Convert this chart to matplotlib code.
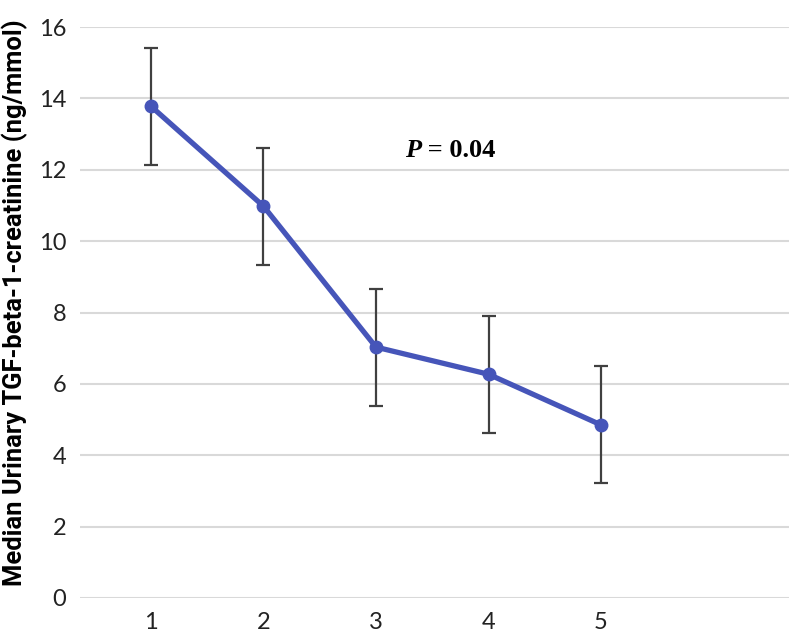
import matplotlib
matplotlib.use("Agg")
import matplotlib.pyplot as plt

categories = [1, 2, 3, 4, 5]
medians = [13.78, 10.98, 7.03, 6.27, 4.85]
errors = [1.64, 1.64, 1.64, 1.64, 1.64]
yticks = [0, 2, 4, 6, 8, 10, 12, 14, 16]

fig = plt.figure(figsize=(7.89, 6.40), dpi=100)
ax = fig.add_axes([80/789, 1-598/640, 1-80/789, (598-27)/640])

ax.set_ylim(0, 16)
ax.set_xlim(0.37, 6.67)
ax.set_yticks(yticks)
ax.set_xticks(categories)
ax.set_xticklabels([str(c) for c in categories])
ax.grid(axis='y', color='#d9d9d9', linewidth=1.5)
ax.set_axisbelow(True)
for s in ax.spines.values():
    s.set_visible(False)
ax.tick_params(length=0, labelsize=17, pad=10)
for lab in ax.get_xticklabels() + ax.get_yticklabels():
    lab.set_family('Lato')
    lab.set_color('#222222')

ax.errorbar(categories, medians, yerr=errors, fmt='none', ecolor='#404040',
            elinewidth=1.6, capsize=5, capthick=1.6, zorder=2)
ax.plot(categories, medians, color='#4655B9', linewidth=3.8, marker='o',
        markersize=9, zorder=3)

ax.set_ylabel("Median Urinary TGF-beta-1-creatinine (ng/mmol)", fontsize=18.4,
              fontweight='bold', family='Roboto')
ax.yaxis.set_label_coords(-0.073, 0.517)

t1 = ax.text(3.26, 12.36, "P", fontsize=19, fontweight='bold', style='italic',
             family='Liberation Serif', ha='left', va='baseline')
ax.annotate(" = 0.04", xy=(1, 0), xycoords=t1, fontsize=19, fontweight='bold',
            family='Liberation Serif', ha='left', va='bottom')

fig.savefig("out.png", dpi=100)
